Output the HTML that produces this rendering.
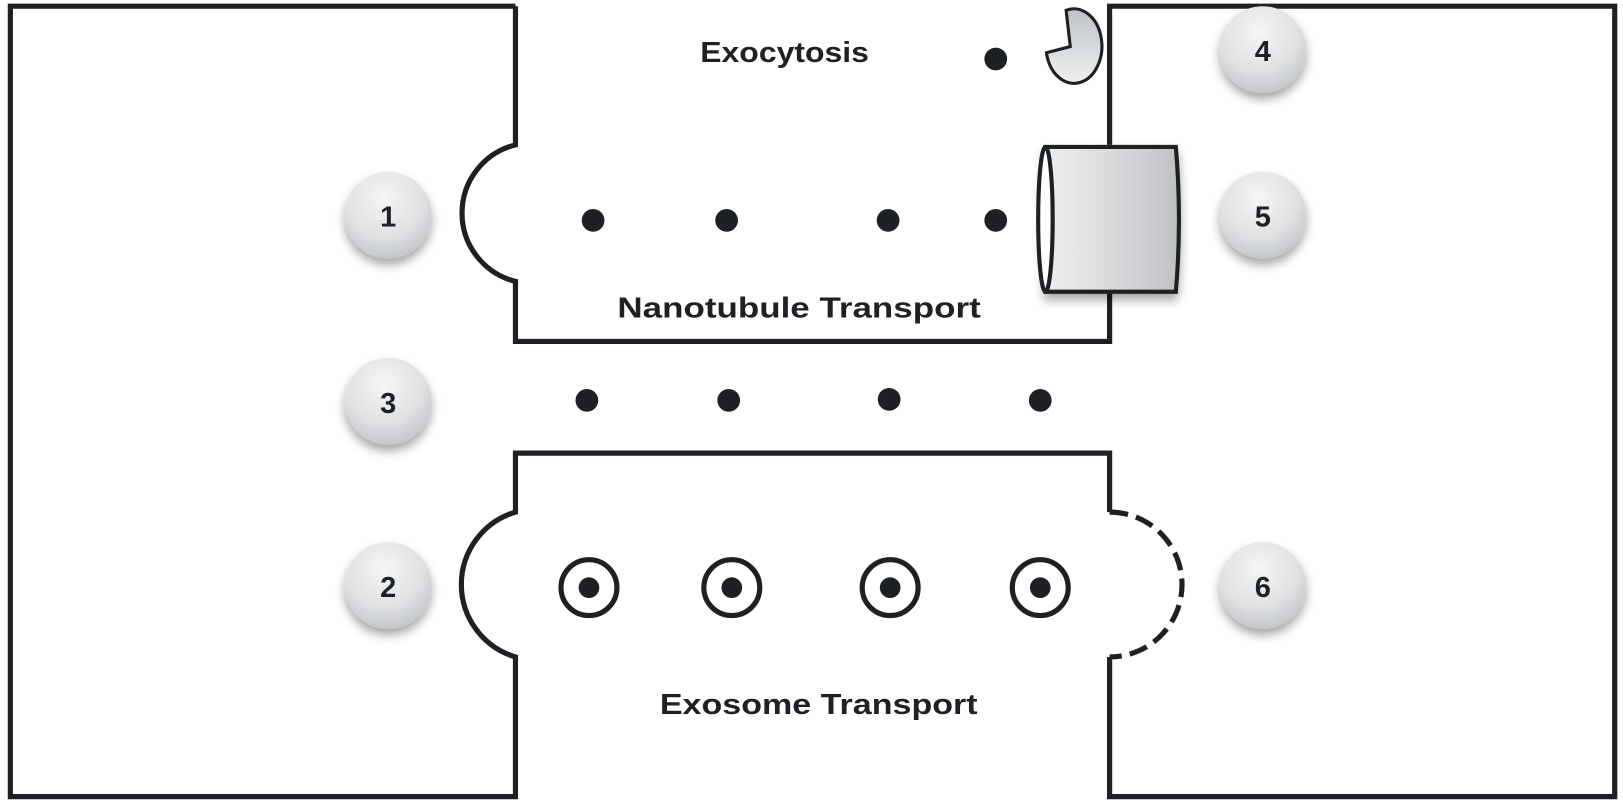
<!DOCTYPE html>
<html><head><meta charset="utf-8"><style>html,body{margin:0;padding:0;background:#fff}svg{display:block}</style></head>
<body>
<svg width="1623" height="808" viewBox="0 0 1568 781" preserveAspectRatio="none" xmlns="http://www.w3.org/2000/svg">
<defs>
<radialGradient id="bg" cx="0.45" cy="0.3" r="0.75">
<stop offset="0" stop-color="#f4f5f6"/><stop offset="0.6" stop-color="#dfe1e3"/><stop offset="1" stop-color="#bfc2c5"/>
</radialGradient>
<linearGradient id="cyl" x1="0" x2="1" y1="0" y2="0">
<stop offset="0" stop-color="#eceeef"/><stop offset="0.5" stop-color="#d8dadc"/><stop offset="1" stop-color="#bfc1c4"/>
</linearGradient>
<linearGradient id="pac" x1="0" x2="0" y1="0" y2="1">
<stop offset="0" stop-color="#bfc2c5"/><stop offset="1" stop-color="#eef0f1"/>
</linearGradient>
<filter id="sh" x="-30%" y="-30%" width="160%" height="170%">
<feDropShadow dx="0" dy="6" stdDeviation="5" flood-color="#000" flood-opacity="0.35"/>
</filter>
</defs>
<g fill="none" stroke="#1e2124" stroke-width="5">
<path d="M498,6 H10 V770 H498 V635 A73,73 0 0 1 498,495 V438 H1072 V495"/>
<path d="M1072,635 V770 H1560 V6 H1072 V140"/>
<path d="M1072,282 V330 H498 V272 A68,68 0 0 1 498,140 V6"/>
<path d="M1072,495 A70,70 0 0 1 1072,635" stroke-dasharray="18,8"/>
</g>
<path d="M1034,45 L1030,10 A27,36 0 1 1 1011,51 Z" fill="url(#pac)" stroke="#1e2124" stroke-width="3"/>
<path d="M1010,142 H1136 Q1142,212 1136,282 H1010 Z" fill="url(#cyl)" stroke="#1e2124" stroke-width="4" filter="url(#sh)"/>
<ellipse cx="1010" cy="212" rx="7" ry="70" fill="#fff" stroke="#1e2124" stroke-width="4"/>
<g fill="#1e2124">
<circle cx="962" cy="57" r="11"/>
<circle cx="573" cy="213" r="11"/><circle cx="702" cy="213" r="11"/><circle cx="858" cy="213" r="11"/><circle cx="962" cy="213" r="11"/>
<circle cx="567" cy="387" r="11"/><circle cx="704" cy="387" r="11"/><circle cx="859" cy="386" r="11"/><circle cx="1005" cy="387" r="11"/>
</g>
<g stroke="#1e2124" stroke-width="5" fill="#fff">
<circle cx="569" cy="568" r="27"/><circle cx="707" cy="568" r="27"/><circle cx="860" cy="568" r="27"/><circle cx="1005" cy="568" r="27"/>
</g>
<g fill="#1e2124">
<circle cx="569" cy="568" r="10"/><circle cx="707" cy="568" r="10"/><circle cx="860" cy="568" r="10"/><circle cx="1005" cy="568" r="10"/>
</g>
<g filter="url(#sh)" fill="url(#bg)">
<circle cx="375" cy="208" r="42"/><circle cx="375" cy="388" r="42"/><circle cx="375" cy="566" r="42"/>
<circle cx="1220" cy="48" r="42"/><circle cx="1220" cy="208" r="42"/><circle cx="1220" cy="566" r="42"/>
</g>
<g font-family="Liberation Sans, sans-serif" font-weight="bold" fill="#1e2124" text-anchor="middle" font-size="28">
<text x="375" y="219">1</text><text x="375" y="399">3</text><text x="375" y="577">2</text>
<text x="1220" y="59">4</text><text x="1220" y="219">5</text><text x="1220" y="577">6</text>
<text x="758" y="60" textLength="163" lengthAdjust="spacingAndGlyphs">Exocytosis</text>
<text x="772" y="307" textLength="351" lengthAdjust="spacingAndGlyphs">Nanotubule Transport</text>
<text x="791" y="690" textLength="307" lengthAdjust="spacingAndGlyphs">Exosome Transport</text>
</g>
</svg>
</body></html>
